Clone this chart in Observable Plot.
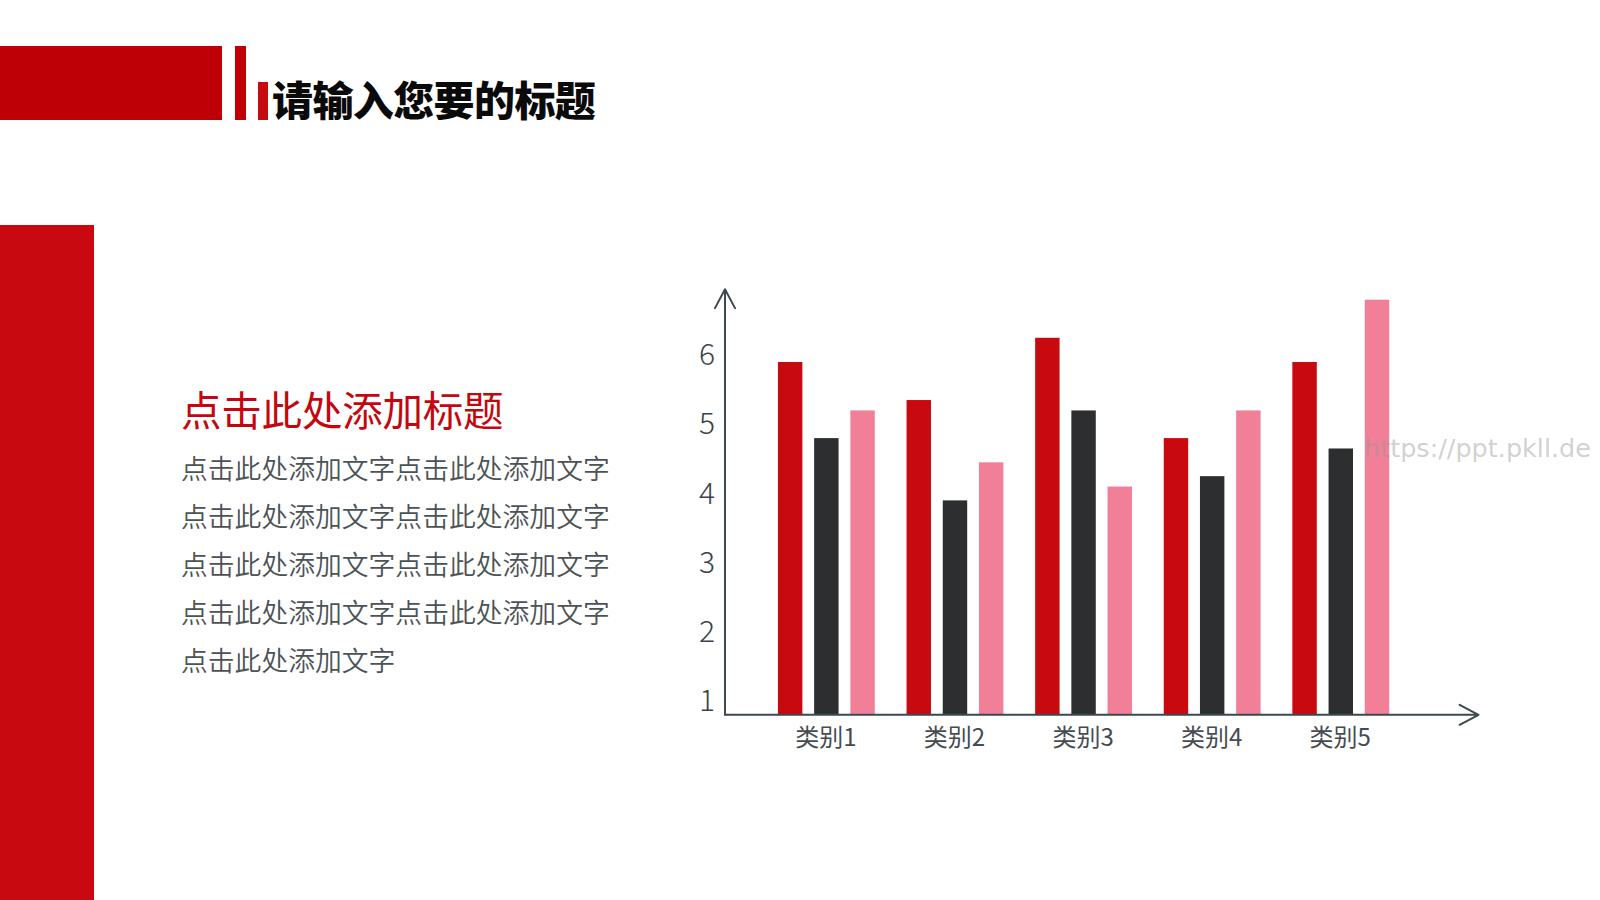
<!DOCTYPE html>
<html>
<head>
<meta charset="utf-8">
<script src="https://cdn.jsdelivr.net/npm/d3@7"></script>
<script src="https://cdn.jsdelivr.net/npm/@observablehq/plot@0.6"></script>
<style>
  html, body { margin: 0; padding: 0; background: #ffffff; }
  body { width: 1600px; height: 900px; position: relative; overflow: hidden; font-family: "Noto Sans CJK SC", "Noto Sans", sans-serif; }
  .blk { position: absolute; }
  #chart { position: absolute; left: 0; top: 0; }
  .title { position: absolute; left: 272px; top: 78px; font-size: 41px; line-height: 41px; font-weight: 900; color: #0a0a0a; letter-spacing: -0.6px; white-space: nowrap; }
  .sub { position: absolute; left: 181px; top: 389px; font-size: 40.5px; line-height: 40px; color: #c4070e; white-space: nowrap; letter-spacing: -0.2px; }
  .body { position: absolute; left: 181px; top: 444px; font-size: 26.8px; line-height: 48px; color: #4c5356; white-space: nowrap; font-weight: 350; }
  .wm { position: absolute; left: 1364px; top: 433px; font-size: 25.5px; line-height: 30px; color: rgba(150,150,150,0.45); font-family: "DejaVu Sans", sans-serif; white-space: nowrap; z-index: 5; }
</style>
</head>
<body>
<div class="blk" style="left:0;top:46px;width:222px;height:74px;background:#be0006"></div>
<div class="blk" style="left:235px;top:46px;width:11px;height:74px;background:#be0006"></div>
<div class="blk" style="left:258px;top:82px;width:10px;height:38px;background:#c8090f"></div>
<div class="blk" style="left:0;top:225px;width:94px;height:675px;background:#c8090f"></div>
<div id="chart"></div>
<div class="title">请输入您要的标题</div>
<div class="sub">点击此处添加标题</div>
<div class="body">点击此处添加文字点击此处添加文字<br>点击此处添加文字点击此处添加文字<br>点击此处添加文字点击此处添加文字<br>点击此处添加文字点击此处添加文字<br>点击此处添加文字</div>
<div class="wm">https://ppt.pkll.de</div>
<script>
const categories = ["类别1", "类别2", "类别3", "类别4", "类别5"];
const seriesNames = ["系列1", "系列2", "系列3"];
const series1 = [5.9, 5.35, 6.25, 4.8, 5.9];
const series2 = [4.8, 3.9, 5.2, 4.25, 4.65];
const series3 = [5.2, 4.45, 4.1, 5.2, 6.8];
const yTickValues = [1, 2, 3, 4, 5, 6];
const colors = ["#c8090f", "#2d2e30", "#f27f98"];

const xMin = -0.792, xMax = 5.067;
const yMin = 0.808, yMax = 6.958;
const offsets = [-0.2815, 0, 0.2815];
const bw = 0.19;

const allSeries = [series1, series2, series3];
const data = [];
categories.forEach((c, i) => {
  allSeries.forEach((arr, s) => {
    data.push({cat: c, i, s, series: seriesNames[s], value: arr[i]});
  });
});

const axisColor = "#3b4a4f";

const chart = Plot.plot({
  width: 1600,
  height: 900,
  marginLeft: 724.5,
  marginRight: 122,
  marginTop: 288.8,
  marginBottom: 185.7,
  style: {background: "transparent", fontFamily: "'Noto Sans CJK SC', 'Noto Sans', sans-serif", overflow: "visible"},
  x: {type: "linear", domain: [xMin, xMax], axis: null},
  y: {type: "linear", domain: [yMin, yMax], axis: null},
  color: {domain: seriesNames, range: colors},
  marks: [
    Plot.rect(data, {
      x1: d => d.i + offsets[d.s] - bw / 2,
      x2: d => d.i + offsets[d.s] + bw / 2,
      y1: () => yMin,
      y2: d => d.value,
      fill: "series"
    }),
    Plot.arrow([0], {
      x1: () => xMin, y1: () => yMin, x2: () => xMin, y2: () => yMax,
      stroke: axisColor, strokeWidth: 2, headLength: 16, headAngle: 56
    }),
    Plot.arrow([0], {
      x1: () => xMin, y1: () => yMin, x2: () => xMax, y2: () => yMin,
      stroke: axisColor, strokeWidth: 2, headLength: 16, headAngle: 56
    }),
    Plot.text(yTickValues, {
      x: () => xMin, y: d => d, text: d => String(d),
      textAnchor: "end", dx: -10, fontSize: 30, fontWeight: 300, fill: "#3c4246"
    }),
    Plot.text(categories, {
      x: (d, i) => i, y: () => yMin, text: d => d,
      dy: 24, dx: -1, fontSize: 24, fill: "#454b50"
    })
  ]
});
document.getElementById("chart").appendChild(chart);
</script>
</body>
</html>
